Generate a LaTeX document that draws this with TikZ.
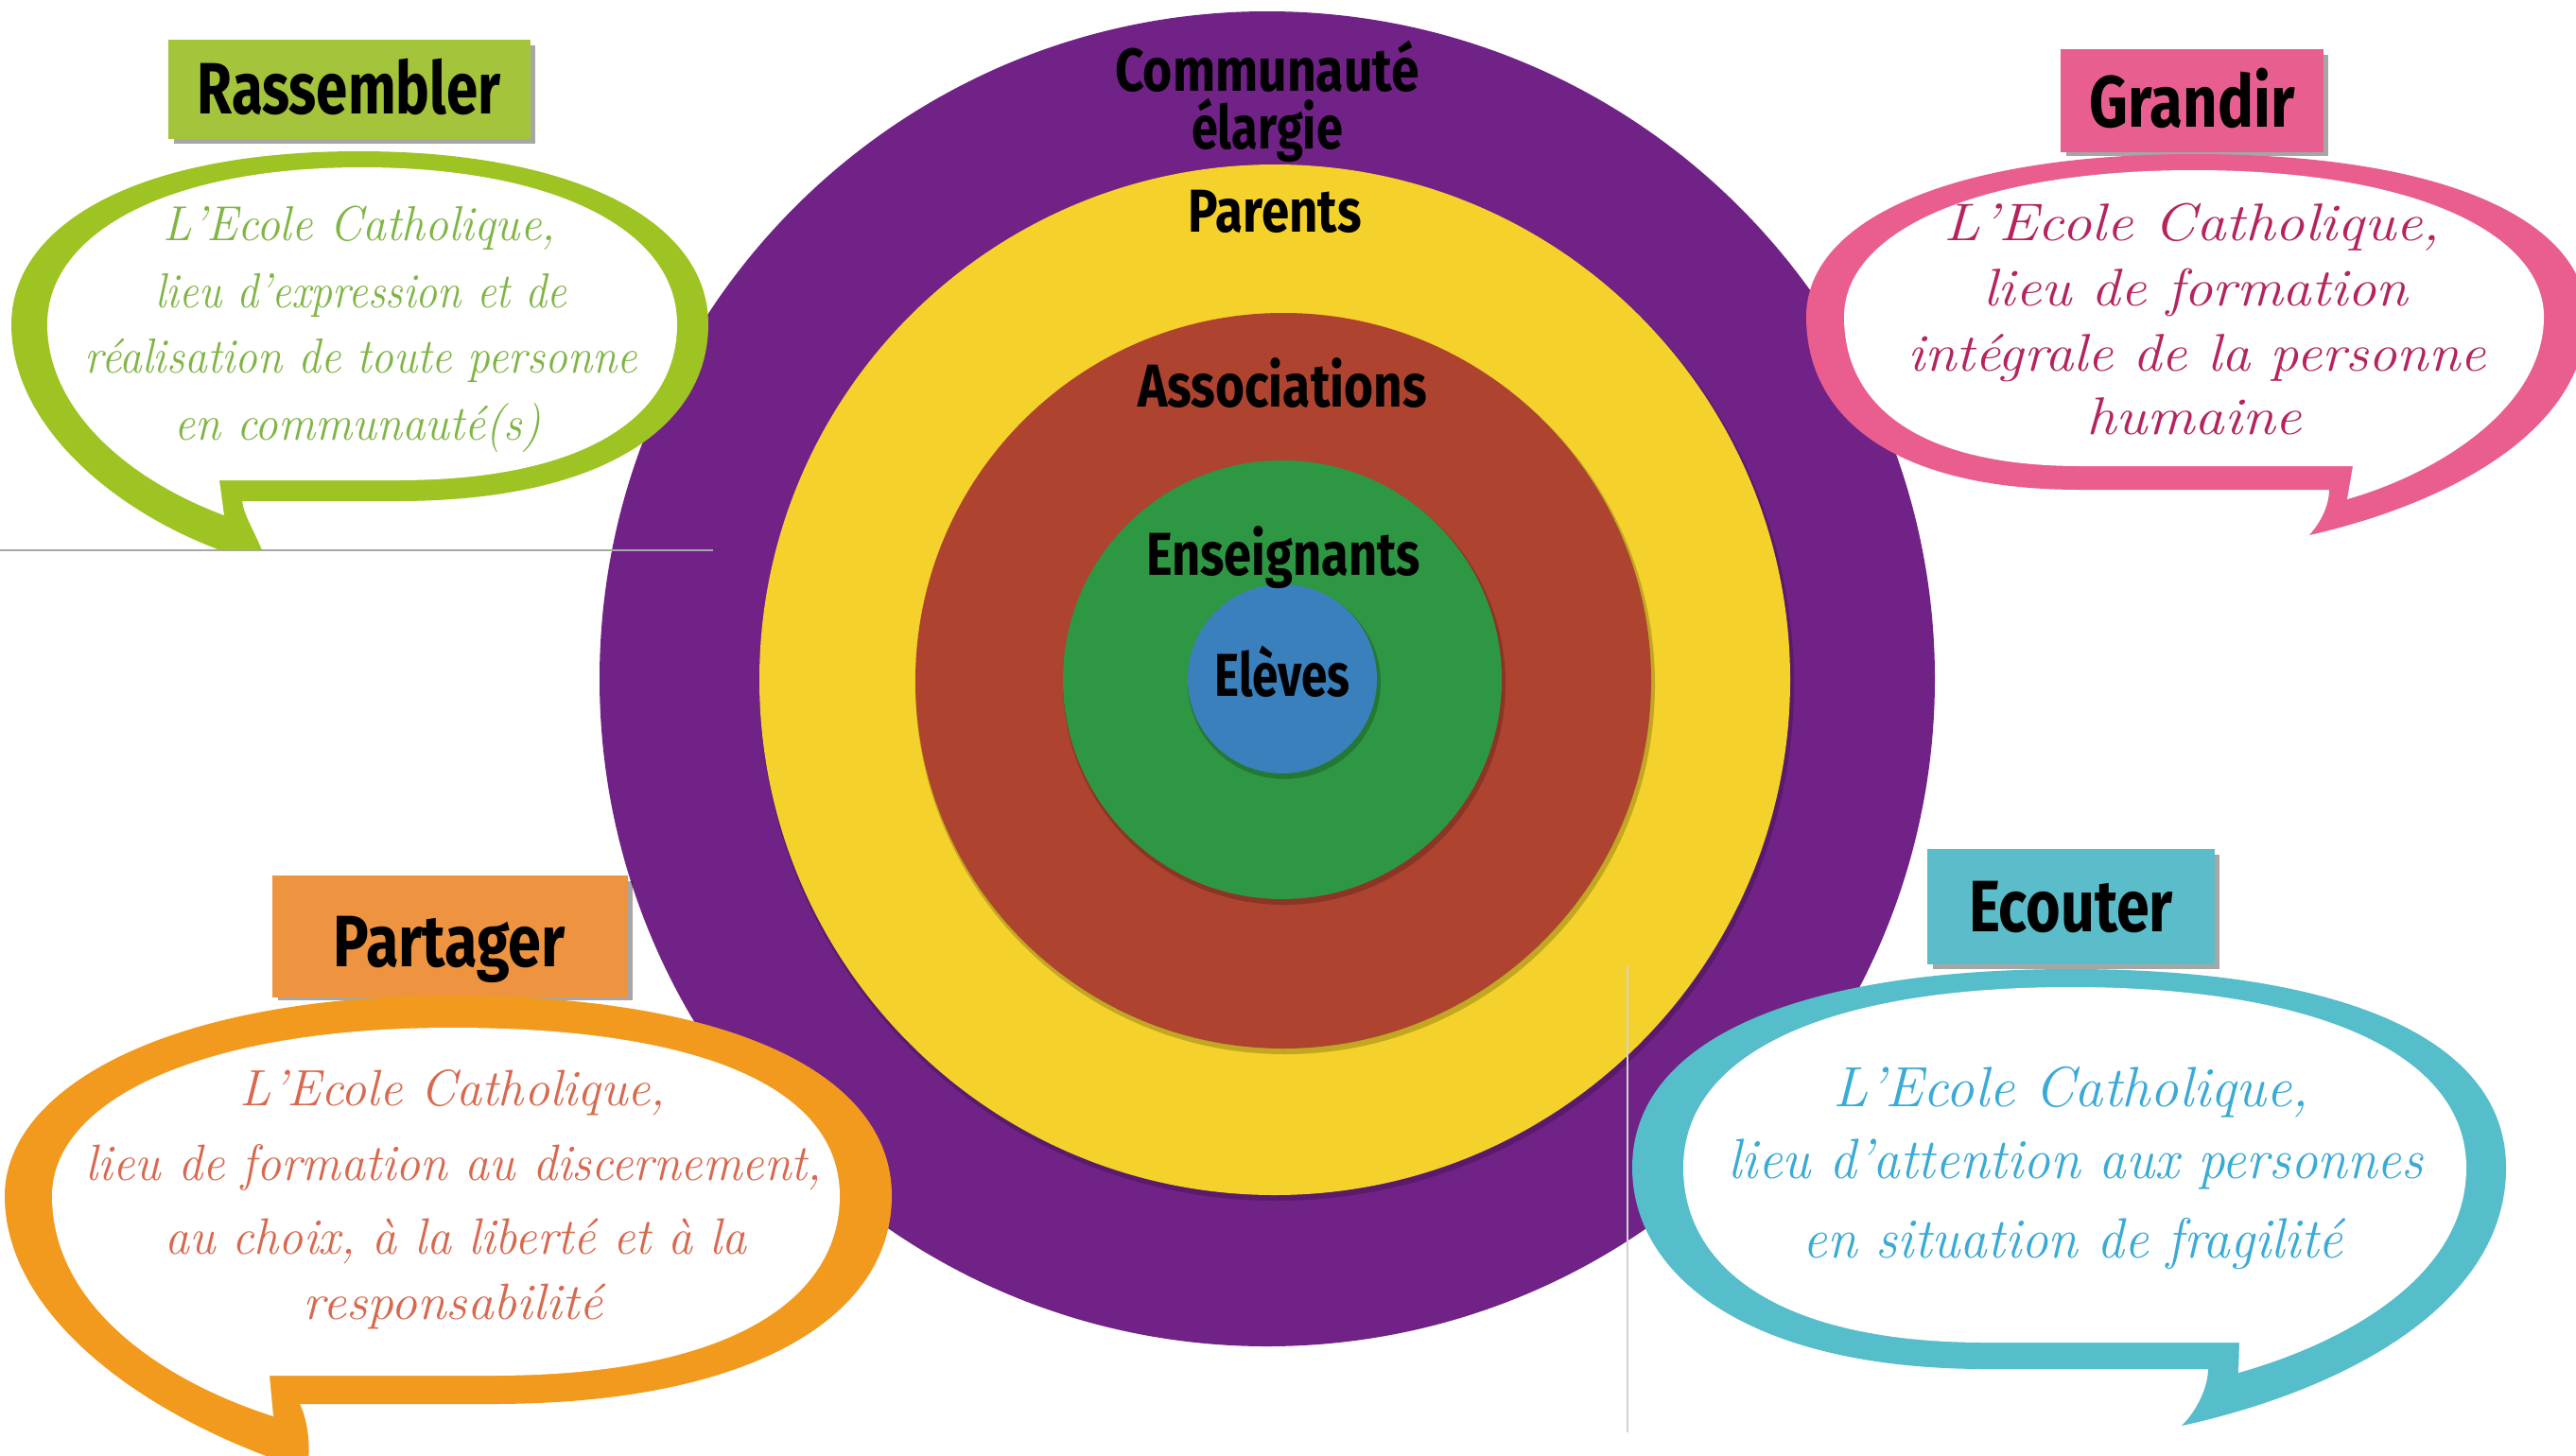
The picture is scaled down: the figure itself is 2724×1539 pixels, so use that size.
\documentclass[tikz,border=0pt]{standalone}
\usepackage{fontspec}
\usepackage{graphicx}
\newfontfamily\headfont{Fira Sans}
\definecolor{cpurple}{HTML}{712287}
\definecolor{cyellow}{HTML}{F4D12B}
\definecolor{cred}{HTML}{AE4330}
\definecolor{cgreen}{HTML}{2E9743}
\definecolor{cblue}{HTML}{3A80BC}
\definecolor{gring}{HTML}{9DC423}
\definecolor{pring}{HTML}{E95E8F}
\definecolor{oring}{HTML}{F29A1E}
\definecolor{bring}{HTML}{56BDCB}
\definecolor{gbox}{HTML}{A4C43C}
\definecolor{pbox}{HTML}{E95E91}
\definecolor{obox}{HTML}{EE9440}
\definecolor{bbox}{HTML}{5BBDC9}
\definecolor{gtext}{HTML}{80B545}
\definecolor{ptext}{HTML}{B5245E}
\definecolor{otext}{HTML}{D8684E}
\definecolor{btext}{HTML}{3AAAD6}
\newcommand\rw[2]{\resizebox{#1pt}{\height}{#2}}
\begin{document}
\begin{tikzpicture}[x=1pt,y=-1pt,
  hd/.style={anchor=base,inner sep=0pt,font=\headfont\bfseries\fontsize{77}{80}\selectfont},
  cl/.style={anchor=base,inner sep=0pt,font=\headfont\bfseries\fontsize{64}{70}\selectfont},
  gl/.style={anchor=base,inner sep=0pt,text=gtext,font=\itshape\fontsize{52}{60}\selectfont},
  pl/.style={anchor=base,inner sep=0pt,text=ptext,font=\itshape\fontsize{56}{60}\selectfont},
  ol/.style={anchor=base,inner sep=0pt,text=otext,font=\itshape\fontsize{54}{60}\selectfont},
  bl/.style={anchor=base,inner sep=0pt,text=btext,font=\itshape\fontsize{60}{66}\selectfont},
  lbox/.style={rectangle,inner sep=0pt,draw=none},
  shade/.style={fill=black,opacity=.35}]
\fill[white] (0,0) rectangle (2724,1539);
\useasboundingbox (0,0) rectangle (2724,1539);

% concentric circles
\fill[cpurple] (1340,718) circle[radius=706pt];
\fill[black,opacity=.2] (1350,723) circle[radius=547pt];
\fill[cyellow] (1348,719) circle[radius=545pt];
\fill[black,opacity=.2] (1359,724) circle[radius=391pt];
\fill[cred] (1357,720) circle[radius=389pt];
\fill[black,opacity=.2] (1358,723) circle[radius=234pt];
\fill[cgreen] (1356,719) circle[radius=232pt];
\fill[black,opacity=.2] (1358,722) circle[radius=102pt];
\fill[cblue] (1356,718) circle[radius=100pt];

\node[cl] (comm) at (1340,96) {\rw{322}{Communauté}};
\node[cl] (elarg) at (1340,157) {\rw{160}{élargie}};
\node[cl] (par) at (1348,245) {\rw{183}{Parents}};
\node[cl] (assoc) at (1356,430) {\rw{306}{Associations}};
\node[cl] (ens) at (1357,608) {\rw{290}{Enseignants}};
\node[cl] (elev) at (1356,736) {\rw{143}{Elèves}};

% thin grey lines
\draw[gray!70,line width=2pt] (0,582) -- (754,582);
\draw[gray!35,line width=1.5pt] (1721,1021) -- (1721,1515);

% label boxes
\fill[shade] (184,48) rectangle (566,152);
\node[lbox,fill=gbox,minimum width=383pt,minimum height=105pt] (rasbox) at (369.5,94.5) {};
\fill[shade] (2185,58) rectangle (2462,165);
\node[lbox,fill=pbox,minimum width=278pt,minimum height=109pt] (grabox) at (2318,106.5) {};
\fill[shade] (294,932) rectangle (669,1058);
\node[lbox,fill=obox,minimum width=376pt,minimum height=129pt] (parbox) at (476,990.5) {};
\fill[shade] (2044,904) rectangle (2347,1025);
\node[lbox,fill=bbox,minimum width=304pt,minimum height=122pt] (ecobox) at (2190,959) {};

% green bubble (Rassembler)
\fill[gring] (233,582) -- (277,582) .. controls (268,560) and (258,545) .. (256,530) -- (420,530) .. controls (640,530) and (749,450) .. (749,343) .. controls (749,230) and (600,160) .. (380,160) .. controls (140,160) and (12,240) .. (12,343) .. controls (12,450) and (120,540) .. (233,582) -- cycle;
\fill[white] (232,508) -- (420,508) .. controls (620,508) and (716,440) .. (716,343) .. controls (716,240) and (580,177) .. (383,177) .. controls (170,177) and (50,250) .. (50,343) .. controls (50,430) and (130,505) .. (237,545) -- cycle;

% pink bubble (Grandir)
\fill[pring] (2442,566) .. controls (2458,548) and (2463,530) .. (2463,518) -- (2200,518) .. controls (2000,518) and (1910,440) .. (1910,335) .. controls (1910,230) and (2070,163) .. (2320,163) .. controls (2600,163) and (2735,240) .. (2735,335) .. controls (2735,450) and (2600,530) .. (2442,566) -- cycle;
\fill[white] (2488,493) -- (2482,528) .. controls (2580,500) and (2690,430) .. (2690,335) .. controls (2690,250) and (2560,180) .. (2320,180) .. controls (2090,180) and (1950,245) .. (1950,335) .. controls (1950,430) and (2030,493) .. (2200,493) -- cycle;

% orange bubble (Partager)
\fill[oring] (325,1555) .. controls (330,1520) and (322,1495) .. (317,1485) -- (520,1485) .. controls (800,1485) and (943,1390) .. (943,1265) .. controls (943,1130) and (760,1053) .. (478,1053) .. controls (180,1053) and (5,1150) .. (5,1265) .. controls (5,1390) and (150,1500) .. (325,1555) -- cycle;
\fill[white] (285,1455) -- (520,1455) .. controls (780,1455) and (888,1370) .. (888,1265) .. controls (888,1150) and (740,1087) .. (478,1087) .. controls (210,1087) and (55,1165) .. (55,1265) .. controls (55,1380) and (170,1460) .. (289,1498) -- cycle;

% blue bubble (Ecouter)
\fill[bring] (2307,1508) .. controls (2325,1490) and (2335,1465) .. (2335,1448) -- (2100,1448) .. controls (1850,1448) and (1726,1350) .. (1726,1235) .. controls (1726,1100) and (1900,1025) .. (2190,1025) .. controls (2480,1025) and (2650,1100) .. (2650,1235) .. controls (2650,1380) and (2480,1470) .. (2307,1508) -- cycle;
\fill[white] (2368,1420) -- (2367,1452) .. controls (2480,1420) and (2608,1350) .. (2608,1235) .. controls (2608,1115) and (2450,1044) .. (2190,1044) .. controls (1930,1044) and (1780,1115) .. (1780,1235) .. controls (1780,1340) and (1880,1420) .. (2100,1420) -- cycle;

% headings
\node[hd] (ras) at (369,120) {\rw{321}{Rassembler}};
\node[hd] (gra) at (2318,134) {\rw{217}{Grandir}};
\node[hd] (part) at (475,1022) {\rw{245}{Partager}};
\node[hd] (eco) at (2190,985) {\rw{216}{Ecouter}};

% green text
\node[gl] (g1) at (380,254) {\rw{415}{L’Ecole Catholique,}};
\node[gl] (g2) at (382,325) {\rw{435}{lieu d’expression et de}};
\node[gl] (g3) at (382,394) {\rw{584}{réalisation de toute personne}};
\node[gl] (g4) at (378,465) {\rw{388}{en communauté(s)}};

% pink text
\node[pl] (p1) at (2318,254) {\rw{525}{L’Ecole Catholique,}};
\node[pl] (p2) at (2322,323) {\rw{449}{lieu de formation}};
\node[pl] (p3) at (2323,392) {\rw{611}{intégrale de la personne}};
\node[pl] (p4) at (2320,459) {\rw{228}{humaine}};

% orange text
\node[ol] (o1) at (479,1169) {\rw{450}{L’Ecole Catholique,}};
\node[ol] (o2) at (480,1248) {\rw{778}{lieu de formation au discernement,}};
\node[ol] (o3) at (482,1326) {\rw{616}{au choix, à la liberté et à la}};
\node[ol] (o4) at (479,1395) {\rw{316}{responsabilité}};

% blue text
\node[bl] (b1) at (2190,1170) {\rw{503}{L’Ecole Catholique,}};
\node[bl] (b2) at (2195,1246) {\rw{735}{lieu d’attention aux personnes}};
\node[bl] (b3) at (2192,1330) {\rw{571}{en situation de fragilité}};
\end{tikzpicture}
\end{document}
